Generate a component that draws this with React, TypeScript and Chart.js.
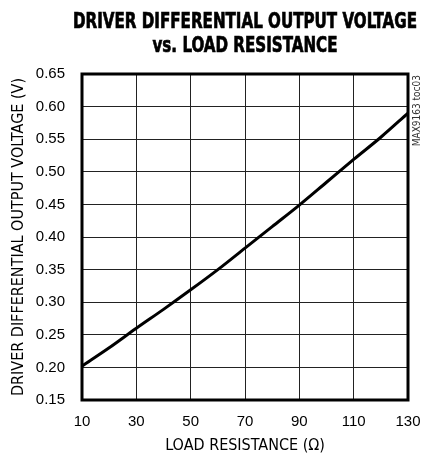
import React, { useEffect, useRef } from "react";
import { Chart, registerables } from "chart.js";

Chart.register(...registerables);

const titleLines = ["DRIVER DIFFERENTIAL OUTPUT VOLTAGE", "vs. LOAD RESISTANCE"];
const xAxisTitle = "LOAD RESISTANCE (\u03A9)";
const yAxisTitle = "DRIVER DIFFERENTIAL OUTPUT VOLTAGE (V)";
const sideLabel = "MAX9163 toc03";

const loadResistance = [10, 20, 30, 40, 50, 60, 70, 80, 90, 100, 110, 120, 130];
const outputVoltage = [0.202, 0.230, 0.260, 0.289, 0.319, 0.350, 0.383, 0.416, 0.449, 0.484, 0.519, 0.553, 0.590];

const xTicks = [10, 30, 50, 70, 90, 110, 130];
const yTicks = [0.15, 0.2, 0.25, 0.3, 0.35, 0.4, 0.45, 0.5, 0.55, 0.6, 0.65];
const yTickLabels = ["0.15", "0.20", "0.25", "0.30", "0.35", "0.40", "0.45", "0.50", "0.55", "0.60", "0.65"];

const FONT = "'DejaVu Sans Condensed', 'Liberation Sans', sans-serif";
const TICK_FONT = "'Liberation Sans', Arial, sans-serif";

const decorPlugin = {
  id: "decor",
  afterDraw(chart: any) {
    const { ctx, chartArea } = chart;
    const { left, right, top, bottom } = chartArea;
    ctx.save();
    // frame
    ctx.strokeStyle = "#000";
    ctx.lineWidth = 3;
    ctx.strokeRect(left, top, right - left, bottom - top);
    // title
    ctx.fillStyle = "#000";
    ctx.strokeStyle = "#000";
    ctx.lineWidth = 0.7;
    ctx.font = `bold 22px ${FONT}`;
    ctx.textAlign = "center";
    ctx.textBaseline = "middle";
    const cx = (left + right) / 2;
    const w1 = ctx.measureText(titleLines[0]).width;
    const sx = Math.min(1, 344 / w1);
    const ys = [22, 46];
    titleLines.forEach((t, i) => {
      ctx.save();
      ctx.translate(cx, ys[i]);
      ctx.scale(sx, 1);
      ctx.fillText(t, 0, 0);
      ctx.strokeText(t, 0, 0);
      ctx.restore();
    });
    // side label
    ctx.font = `10px ${FONT}`;
    ctx.fillStyle = "#333";
    ctx.translate(right + 9, top + 1);
    ctx.rotate(-Math.PI / 2);
    ctx.textAlign = "right";
    ctx.textBaseline = "middle";
    ctx.fillText(sideLabel, 0, 0);
    ctx.restore();
  },
};

export default function App() {
  const ref = useRef<HTMLCanvasElement | null>(null);
  useEffect(() => {
    document.body.style.margin = "0";
    if (!ref.current) return;
    const chart = new Chart(ref.current, {
      type: "line",
      data: {
        datasets: [
          {
            data: loadResistance.map((x, i) => ({ x, y: outputVoltage[i] })),
            borderColor: "#000",
            borderWidth: 3,
            pointRadius: 0,
            tension: 0.4,
            cubicInterpolationMode: "monotone",
          },
        ],
      },
      options: {
        animation: false,
        responsive: false,
        layout: { padding: { top: 74, right: 14, left: 0, bottom: 0 } },
        plugins: { legend: { display: false }, title: { display: false }, tooltip: { enabled: false } },
        scales: {
          x: {
            type: "linear",
            min: 10,
            max: 130,
            afterFit: (s: any) => { s.height = 58; },
            afterBuildTicks: (s: any) => { s.ticks = xTicks.map((v) => ({ value: v })); },
            ticks: { color: "#000", font: { family: TICK_FONT, size: 15 }, padding: 0, callback: (v: any) => String(v) },
            grid: { color: "#222", lineWidth: 1, drawTicks: true, tickLength: 13, tickColor: "rgba(0,0,0,0)" },
            border: { display: false },
            title: { display: true, text: xAxisTitle, color: "#000", font: { family: FONT, size: 16 }, padding: { top: 0, bottom: 3 } },
          },
          y: {
            type: "linear",
            min: 0.15,
            max: 0.65,
            afterFit: (s: any) => { s.width = 82; },
            afterBuildTicks: (s: any) => { s.ticks = yTicks.map((v) => ({ value: v })); },
            ticks: {
              color: "#000",
              font: { family: TICK_FONT, size: 15 },
              padding: 17,
              callback: (v: any) => {
                const i = yTicks.findIndex((t) => Math.abs(t - v) < 1e-6);
                return i >= 0 ? yTickLabels[i] : "";
              },
            },
            grid: { color: "#222", lineWidth: 1, drawTicks: false },
            border: { display: false },
            title: { display: true, text: yAxisTitle, color: "#000", font: { family: FONT, size: 16 }, padding: { top: 9, bottom: 0 } },
          },
        },
      },
      plugins: [decorPlugin],
    } as any);
    return () => chart.destroy();
  }, []);
  return (
    <div style={{ width: 422, height: 458 }}>
      <canvas ref={ref} width={422} height={458} style={{ display: "block" }} />
    </div>
  );
}
